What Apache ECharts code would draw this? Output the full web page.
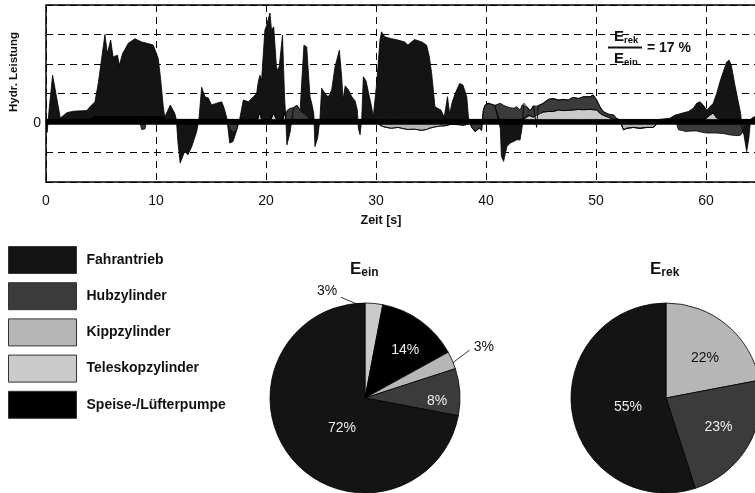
<!DOCTYPE html>
<html>
<head>
<meta charset="utf-8">
<script src="https://cdn.jsdelivr.net/npm/echarts@6/dist/echarts.min.js"></script>
<style>
  html, body { margin: 0; padding: 0; background: #fff; }
  #chart { width: 755px; height: 493px; }
</style>
</head>
<body>
<div id="chart"></div>
<script>
// Zeitachse [s] – gemeinsame Stützstellen aller Verbraucher
const zeit = [
  0, 0.1, 0.3, 0.6, 1.3, 1.9, 2.5, 3.7, 4.0, 4.45,
  4.75, 5.06, 5.36, 5.57, 5.88, 6.1, 6.5, 6.67, 6.97, 7.48,
  8.09, 8.4, 8.7, 9.0, 9.2, 9.75, 10.2, 10.4, 10.66, 10.8,
  11.3, 11.7, 11.85, 12.0, 12.2, 12.6, 12.9, 13.25, 13.7, 13.9,
  14.15, 14.45, 14.75, 15.06, 15.5, 15.97, 16.2, 16.45, 16.7, 17.0,
  17.3, 17.6, 17.94, 18.4, 18.85, 19.15, 19.3, 19.45, 19.6, 19.9,
  20.05, 20.36, 20.5, 20.7, 20.97, 21.2, 21.5, 21.6, 21.7, 21.8,
  21.9, 22.2, 22.5, 22.8, 23.1, 23.45, 23.7, 24.0, 24.2, 24.35,
  24.45, 24.7, 24.9, 25.06, 25.4, 25.67, 25.97, 26.27, 26.67, 26.9,
  27.0, 27.2, 27.5, 27.8, 28.1, 28.3, 28.4, 28.55, 28.7, 28.85,
  29.1, 29.3, 29.6, 29.75, 30.06, 30.36, 30.5, 30.8, 31.4, 32.0,
  32.6, 32.9, 33.5, 34.15, 34.6, 34.85, 35.06, 35.36, 35.6, 35.9,
  36.2, 36.5, 36.7, 36.9, 37.2, 37.6, 37.9, 38.25, 38.4, 38.7,
  39.0, 39.4, 39.6, 39.68, 39.75, 39.9, 40.2, 40.8, 41.3, 41.4,
  41.6, 41.9, 42.2, 42.5, 42.8, 43.1, 43.3, 43.45, 43.85, 44.0,
  44.3, 44.6, 44.75, 45.2, 45.66, 46.1, 46.6, 47.0, 47.5, 47.9,
  48.4, 48.85, 49.45, 49.75, 50.06, 50.36, 50.66, 51.1, 51.6, 51.9,
  52.1, 52.5, 52.8, 53.4, 54.0, 54.6, 55.2, 55.5, 55.8, 56.7,
  57.2, 57.5, 57.8, 58.2, 58.4, 58.85, 59.15, 59.45, 59.75, 60.06,
  60.36, 60.66, 60.97, 61.27, 61.57, 61.88, 62.1, 62.3, 62.6, 62.9,
  63.15, 63.3, 63.45, 63.7, 63.9, 64.05, 64.3, 64.6, 65
];

// Hydraulische Leistung je Verbraucher (normiert, eine Rasterteilung = 1)
const fahrantrieb = [
  0, -0.32, 0.4, 1.5, 0.05, 0.23, 0.28, 0.3, 0.43, 0.52,
  1.14, 1.99, 2.8, 2.16, 2.61, 2.04, 2.1, 1.76, 2.16, 2.5,
  2.66, 2.6, 2.55, 2.52, 2.5, 2.44, 1.99, 1.37, 0.35, 0.08,
  0.49, 0.21, 0, -0.68, -1.36, -0.97, -1.08, -0.8, -0.29, 0,
  1.09, 0.77, 0.73, 0.49, 0.55, 0.6, 0.38, 0.03, -0.48, -0.33,
  -0.04, 0, 0.66, 0.6, 0.77, 0.88, 1.28, 1.25, 1.34, 3.03,
  3.18, 3.61, 3.03, 2.94, 1.67, 1.78, 2.86, 1.7, 0.41, 0.08,
  -0.74, -0.3, 0, 0, 0.02, 2.32, 2.36, 0.77, 0.48, 0.18,
  -0.8, -0.5, 0, 1.06, 0.86, 0.77, 1.0, 1.78, 2.35, 1.34,
  0.66, 1.14, 1.0, 0.77, 0.63, 0.32, -0.18, -0.4, 0, 1.45,
  1.3, 0.94, 0.43, 0.08, 1.22, 2.69, 2.97, 2.8, 2.74, 2.69,
  2.63, 2.52, 2.71, 2.63, 2.52, 2.12, 1.56, 0.43, 0.38, 0.32,
  0.08, 0.77, 0.18, 0.55, 0.88, 1.22, 1.17, 0.77, 0.08, 0,
  0, 0, 0, 0, 0, 0, 0, 0, -0.18, -1.13,
  -1.3, -0.8, -0.68, -0.63, -0.57, -0.57, -0.1, 0, 0, 0,
  0, -0.15, 0, 0, 0, 0, 0, 0, 0, 0,
  0, 0, 0, 0, 0, 0, 0, 0, 0, 0,
  0, 0, 0, 0, 0, 0, 0, 0, 0, 0.04,
  0.15, 0.18, 0.21, 0.25, 0.27, 0.38, 0.55, 0.6, 0.49, 0.27,
  0.28, 0.33, 0.83, 1.28, 1.62, 1.95, 2.01, 1.84, 1.22, 0.66,
  0.21, 0, -0.3, -0.97, -0.5, 0, 0.08, 0.1, 0.1
];

const hubzylinder = [
  0, 0, 0, 0, 0, 0, 0, 0, 0, 0,
  0, 0, 0, 0, 0, 0, 0, 0, 0, 0,
  0, 0, -0.22, -0.2, 0, 0, 0, 0, 0, 0,
  0, 0, 0, 0, 0, 0, 0, 0, 0, 0,
  0, 0, 0, 0, 0, 0, 0, 0, -0.2, -0.3,
  -0.25, 0, 0, 0, 0, 0, 0, 0, 0, 0,
  0, 0, 0, 0, 0, 0, 0, 0, 0, 0,
  0.3, 0.38, 0.4, 0.48, 0.3, 0.2, 0.1, 0, 0, 0,
  0, 0, 0, 0, 0, 0, 0, 0, 0, 0,
  0, 0, 0, 0, 0, 0, 0, 0, 0, 0,
  0, 0, 0, 0, 0, 0, 0, 0, 0, 0,
  0, 0, 0, 0, 0, 0, 0, 0, 0, 0,
  0, 0, 0, 0, 0, 0, 0, 0, 0, -0.15,
  -0.29, -0.18, -0.25, 0, 0.3, 0.48, 0.55, 0.48, 0.55, 0.52,
  0.48, 0.43, 0.4, 0.38, 0.43, 0.32, 0.5, 0.55, 0.23, 0.17,
  0.38, 0.3, 0.22, 0.3, 0.41, 0.44, 0.34, 0.38, 0.35, 0.43,
  0.37, 0.44, 0.43, 0.5, 0.34, 0.22, 0.13, 0.1, 0.15, 0.02,
  0, 0, 0, 0, 0, 0, 0, 0, 0, 0,
  0, -0.23, -0.25, -0.29, -0.28, -0.27, -0.27, -0.3, -0.32, -0.34,
  -0.34, -0.34, -0.34, -0.35, -0.36, -0.38, -0.4, -0.41, -0.42, -0.43,
  -0.41, -0.3, -0.1, 0, 0, 0, 0, 0, 0
];

const kippzylinder = [
  0, 0, 0, 0, 0, 0, 0, 0, 0, 0,
  0, 0, 0, 0, 0, 0, 0, 0, 0, 0,
  0, 0, 0, 0, 0, 0, 0, 0, 0, 0,
  0, 0, 0, 0, 0, 0, 0, 0, 0, 0,
  0, 0, 0, 0, 0, 0, 0, 0, 0, 0,
  0, 0, 0, 0, 0, 0, 0, 0, 0, 0,
  0, 0, 0, 0, 0, 0, 0, 0, 0, 0,
  0, 0, 0, 0, 0, 0, 0, 0, 0, 0,
  0, 0, 0, 0, 0, 0, 0, 0, 0, 0,
  0, 0, 0, 0, 0, 0, 0, 0, 0, 0,
  0, 0, 0, 0, 0, -0.08, -0.1, -0.14, -0.18, -0.15,
  -0.2, -0.22, -0.21, -0.25, -0.22, -0.18, -0.16, -0.13, -0.12, -0.1,
  -0.1, -0.08, -0.05, -0.05, -0.05, -0.06, -0.08, -0.05, 0, 0,
  0, 0, 0, 0, 0, 0, 0, 0, 0, 0,
  0, 0, 0, 0, 0, 0, 0, 0, 0, 0,
  0, 0, 0, 0, 0, 0, 0, 0, 0, 0,
  0, 0, 0, 0, 0, 0, 0, 0, 0, 0,
  0, -0.23, -0.18, -0.15, -0.18, -0.15, -0.15, -0.05, 0, 0,
  0, 0, 0, 0, 0, 0, 0, 0, 0, 0,
  0, 0, 0, 0, 0, 0, 0, 0, 0, 0,
  0, 0, 0, 0, 0, 0, 0, 0, 0
];

const teleskopzylinder = [
  0, 0, 0, 0, 0, 0, 0, 0, 0, 0,
  0, 0, 0, 0, 0, 0, 0, 0, 0, 0,
  0, 0, 0, 0, 0, 0, 0, 0, 0, 0,
  0, 0, 0, 0, 0, 0, 0, 0, 0, 0,
  0, 0, 0, 0, 0, 0, 0, 0, 0, 0,
  0, 0, 0, 0, 0, 0, 0, 0.25, 0, 0,
  0, 0, 0, 0.2, 0, 0, 0, 0, 0.25, 0,
  0, 0, 0, 0, 0, 0, 0, 0, 0, 0,
  0, 0, 0, 0, 0, 0, 0, 0, 0, 0,
  0, 0, 0, 0, 0, 0, 0, 0, 0, 0,
  0, 0, 0, 0, 0, 0, 0, 0, 0, 0,
  0, 0, 0, 0, 0, 0, 0, 0, 0, 0,
  0, 0, 0, 0, 0, 0, 0, 0, 0, 0,
  0, 0, 0, 0, 0, 0, 0, 0, 0, 0,
  0, 0, 0, 0, 0, 0, 0, 0, 0.15, 0.12,
  0.08, 0.15, 0.21, 0.25, 0.27, 0.27, 0.32, 0.3, 0.31, 0.32,
  0.34, 0.33, 0.34, 0.33, 0.32, 0.21, 0.14, 0.08, 0, 0,
  0, 0, 0, 0, 0, 0, 0, 0, 0, 0,
  0, 0, 0, 0, 0, 0, 0, 0, 0, 0.05,
  0.15, 0.22, 0.05, 0, 0, 0, 0, 0, 0, 0,
  0, 0, 0, 0, 0, 0, 0, 0, 0
];

const speisepumpe = [
  0.12, 0.12, 0.12, 0.12, 0.12, 0.12, 0.12, 0.12, 0.12, 0.2,
  0.2, 0.2, 0.2, 0.2, 0.2, 0.2, 0.2, 0.2, 0.2, 0.2,
  0.2, 0.2, 0.2, 0.2, 0.2, 0.2, 0.2, 0.2, 0.2, 0.12,
  0.12, 0.12, 0.12, 0.12, 0.12, 0.12, 0.12, 0.12, 0.12, 0.12,
  0.12, 0.12, 0.12, 0.12, 0.12, 0.12, 0.12, 0.12, 0.12, 0.12,
  0.12, 0.12, 0.12, 0.12, 0.12, 0.12, 0.12, 0.12, 0.12, 0.12,
  0.12, 0.12, 0.12, 0.12, 0.12, 0.12, 0.12, 0.12, 0.12, 0.12,
  0.12, 0.12, 0.12, 0.12, 0.12, 0.12, 0.12, 0.12, 0.12, 0.12,
  0.12, 0.12, 0.12, 0.12, 0.12, 0.12, 0.12, 0.12, 0.12, 0.12,
  0.12, 0.12, 0.12, 0.12, 0.12, 0.12, 0.12, 0.12, 0.12, 0.12,
  0.12, 0.12, 0.12, 0.12, 0.12, 0.12, 0.12, 0.12, 0.12, 0.12,
  0.12, 0.12, 0.12, 0.12, 0.12, 0.12, 0.12, 0.12, 0.12, 0.12,
  0.12, 0.12, 0.12, 0.12, 0.12, 0.12, 0.12, 0.12, 0.12, 0.12,
  0.12, 0.12, 0.12, 0.12, 0.12, 0.12, 0.12, 0.12, 0.12, 0.12,
  0.12, 0.12, 0.12, 0.12, 0.12, 0.12, 0.12, 0.12, 0.12, 0.12,
  0.12, 0.12, 0.12, 0.12, 0.12, 0.12, 0.12, 0.12, 0.12, 0.12,
  0.12, 0.12, 0.12, 0.12, 0.12, 0.12, 0.12, 0.12, 0.12, 0.12,
  0.12, 0.12, 0.12, 0.12, 0.12, 0.12, 0.12, 0.12, 0.12, 0.12,
  0.12, 0.12, 0.12, 0.12, 0.12, 0.12, 0.12, 0.12, 0.12, 0.12,
  0.12, 0.12, 0.12, 0.12, 0.12, 0.12, 0.12, 0.12, 0.12, 0.12,
  0.12, 0.12, 0.12, 0.12, 0.12, 0.12, 0.12, 0.12, 0.12
];

// Energieanteile [%] (im Uhrzeigersinn ab 12 Uhr)
const einNamen = ['Teleskopzylinder', 'Speise-/Lüfterpumpe', 'Kippzylinder', 'Hubzylinder', 'Fahrantrieb'];
const einWerte = [3, 14, 3, 8, 72];
const rekNamen = ['Kippzylinder', 'Hubzylinder', 'Fahrantrieb'];
const rekWerte = [22, 23, 55];

const verhaeltnisText = '= 17 %';
const legendenNamen = ['Fahrantrieb', 'Hubzylinder', 'Kippzylinder', 'Teleskopzylinder', 'Speise-/Lüfterpumpe'];

const FONT = '"Liberation Sans", Arial, Helvetica, sans-serif';
const farben = {
  'Fahrantrieb': '#141414',
  'Hubzylinder': '#3b3b3b',
  'Kippzylinder': '#b6b6b6',
  'Teleskopzylinder': '#cacaca',
  'Speise-/Lüfterpumpe': '#000000'
};

// Stapelreihenfolge von der Nulllinie nach außen
const stapel = [
  ['Speise-/Lüfterpumpe', speisepumpe],
  ['Teleskopzylinder', teleskopzylinder],
  ['Kippzylinder', kippzylinder],
  ['Hubzylinder', hubzylinder],
  ['Fahrantrieb', fahrantrieb]
];

// Leistung steht in Spalte 0 (wird gestapelt), Zeit in Spalte 1
const flaechen = stapel.map(([name, werte], k) => ({
  type: 'line',
  name: name,
  stack: 'leistung',
  stackStrategy: 'samesign',
  symbol: 'none',
  z: k === 0 ? 4 : 2,
  encode: { x: 1, y: 0 },
  data: zeit.map((t, i) => [werte[i], t]),
  lineStyle: { color: '#000', width: 0.8 },
  itemStyle: { color: farben[name] },
  areaStyle: { color: farben[name], opacity: 1 },
  markLine: k === 0 ? {
    silent: true, symbol: 'none', label: { show: false },
    lineStyle: { color: '#000', width: 2.5, type: 'solid' },
    data: [{ yAxis: 0 }]
  } : undefined
}));

// Kreisdiagramme: Lage und Beschriftungsplatzierung
const kreisEin = { cx: 365, cy: 398, r: 95 };
const kreisRek = { cx: 666, cy: 398, r: 95 };
// da: Winkelversatz zur Segmentmitte [Grad], f: Radiusanteil
const einBeschriftung = [
  { da: -25, f: 1.19, linie: [[0, 0.92], [-18.8, 1.09]], farbe: '#111' },
  { da: 4, f: 0.66, farbe: '#eeeeee' },
  { da: 0.4, f: 1.36, linie: [[1.6, 0.99], [-1.2, 1.21]], farbe: '#111' },
  { da: 6.4, f: 0.76, farbe: '#eeeeee' },
  { da: -13, f: 0.4, farbe: '#eeeeee' }
];
const rekBeschriftung = [
  { da: 4.4, f: 0.59, farbe: '#111' },
  { da: -2, f: 0.63, farbe: '#eeeeee' },
  { da: -4, f: 0.41, farbe: '#eeeeee' }
];

function mitte(werte, i) {
  const summe = werte.reduce((a, b) => a + b, 0);
  let vor = 0;
  for (let j = 0; j < i; j++) vor += werte[j];
  return (vor + werte[i] / 2) / summe * 360;
}
function polar(k, grad, f) {
  const a = grad * Math.PI / 180;
  return [k.cx + f * k.r * Math.sin(a), k.cy - f * k.r * Math.cos(a)];
}
function kreis(namen, werte, k, beschr) {
  return {
    type: 'pie',
    center: [k.cx, k.cy],
    radius: k.r,
    startAngle: 90,
    clockwise: true,
    avoidLabelOverlap: false,
    itemStyle: { borderColor: '#000', borderWidth: 0.8 },
    data: namen.map((n, i) => ({
      name: n,
      value: werte[i],
      itemStyle: { color: farben[n] },
      label: {
        show: true,
        position: beschr[i].linie ? 'outside' : 'inside',
        color: beschr[i].farbe,
        fontFamily: FONT,
        fontSize: 14
      },
      labelLine: {
        show: !!beschr[i].linie,
        lineStyle: { color: '#000', width: 0.8 }
      }
    })),
    label: { formatter: p => p.value + '%' },
    labelLayout: function (p) {
      const b = beschr[p.dataIndex];
      const m = mitte(werte, p.dataIndex);
      const pos = polar(k, m + b.da, b.f);
      const res = { x: pos[0], y: pos[1], align: 'center', verticalAlign: 'middle' };
      if (b.linie) {
        const p0 = polar(k, m + b.linie[0][0], b.linie[0][1]);
        const p1 = polar(k, m + b.linie[1][0], b.linie[1][1]);
        res.labelLinePoints = [p0, p1, p1];
      }
      return res;
    }
  };
}

function indexText(gross, klein, fsG, fsK, x, y) {
  return {
    type: 'text', x: x, y: y, z: 100,
    style: {
      text: '{g|' + gross + '}{k|' + klein + '}',
      verticalAlign: 'top',
      rich: {
        g: { fontSize: fsG, fontWeight: 'bold', fontFamily: FONT, fill: '#111', verticalAlign: 'bottom', padding: [0, 0, 1, 0] },
        k: { fontSize: fsK, fontWeight: 'bold', fontFamily: FONT, fill: '#111', verticalAlign: 'bottom' }
      }
    }
  };
}

const chart = echarts.init(document.getElementById('chart'));
chart.setOption({
  animation: false,
  backgroundColor: '#fff',
  grid: {
    left: 46, top: 5, width: 715, height: 177,
    outerBoundsMode: 'none',
    show: true, borderColor: '#000', borderWidth: 1.5, backgroundColor: 'transparent'
  },
  xAxis: {
    type: 'value', min: 0, max: 65, interval: 10,
    axisLine: { show: false },
    axisTick: { show: false },
    axisLabel: {
      margin: 12, color: '#111', fontFamily: FONT, fontSize: 14,
      formatter: v => (v % 10 === 0 ? String(v) : '')
    },
    splitLine: { show: true, lineStyle: { color: '#000', width: 1, type: [7, 5] } }
  },
  yAxis: {
    type: 'value', min: -2, max: 4, interval: 1,
    axisLine: { show: false },
    axisTick: { show: false },
    axisLabel: {
      margin: 5, color: '#111', fontFamily: FONT, fontSize: 14,
      formatter: v => (v === 0 ? '0' : '')
    },
    splitLine: { show: true, lineStyle: { color: '#000', width: 1, type: [7, 5] } }
  },
  legend: {
    orient: 'vertical', left: 3, top: 241,
    itemWidth: 68, itemHeight: 27, itemGap: 8.2,
    icon: 'rect', selectedMode: false,
    textStyle: { fontFamily: FONT, fontSize: 14, fontWeight: 'bold', color: '#111', padding: [0, 0, 0, 5] },
    itemStyle: { borderColor: '#333', borderWidth: 1 },
    data: legendenNamen.map(n => ({ name: n, itemStyle: { color: farben[n], borderColor: '#333', borderWidth: 1 } }))
  },
  graphic: [
    {
      type: 'text', x: 14, y: 72, rotation: Math.PI / 2,
      style: { text: 'Hydr. Leistung', fontFamily: FONT, fontSize: 11.5, fontWeight: 'bold', fill: '#111', align: 'center', verticalAlign: 'middle' }
    },
    {
      type: 'text', x: 381, y: 221,
      style: { text: 'Zeit [s]', fontFamily: FONT, fontSize: 12.5, fontWeight: 'bold', fill: '#111', align: 'center', verticalAlign: 'middle' }
    },
    indexText('E', 'rek', 15, 9.5, 614, 29),
    { type: 'line', z: 100, shape: { x1: 608, y1: 47.5, x2: 642, y2: 47.5 }, style: { stroke: '#111', lineWidth: 2 } },
    indexText('E', 'ein', 15, 9.5, 614, 51),
    {
      type: 'text', x: 647, y: 48, z: 100,
      style: { text: verhaeltnisText, fontFamily: FONT, fontSize: 14, fontWeight: 'bold', fill: '#111', align: 'left', verticalAlign: 'middle' }
    },
    indexText('E', 'ein', 17, 12, 350, 261),
    indexText('E', 'rek', 17, 12, 650, 261)
  ],
  series: flaechen.concat([
    kreis(einNamen, einWerte, kreisEin, einBeschriftung),
    kreis(rekNamen, rekWerte, kreisRek, rekBeschriftung)
  ])
});
</script>
</body>
</html>
